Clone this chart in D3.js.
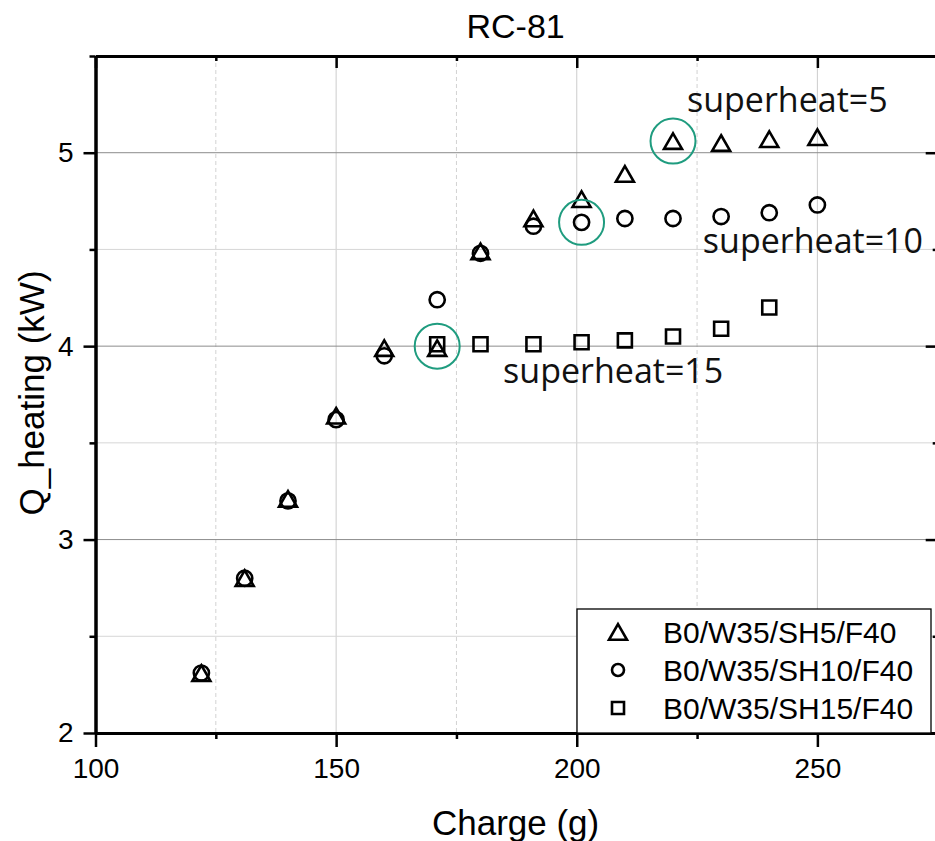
<!DOCTYPE html>
<html>
<head>
<meta charset="utf-8">
<script src="https://cdn.jsdelivr.net/npm/d3@7"></script>
<style>
  html, body { margin: 0; padding: 0; background: #fff; }
  svg { display: block; }
</style>
</head>
<body>
<svg id="chart" width="935" height="841"></svg>
<script>
// ---------- data ----------
const chargeAll = [122, 131, 140, 150, 160, 171, 180, 191, 201, 210, 220, 230, 240, 250];
const qSH5  = [2.31, 2.80, 3.21, 3.64, 3.99, 3.99, 4.49, 4.66, 4.76, 4.89, 5.06, 5.05, 5.07, 5.08];
const qSH10 = [2.31, 2.80, 3.20, 3.62, 3.95, 4.24, 4.48, 4.62, 4.64, 4.66, 4.66, 4.67, 4.69, 4.73];
const chargeSH15 = [171, 180, 191, 201, 210, 220, 230, 240];
const qSH15 = [4.01, 4.01, 4.01, 4.02, 4.03, 4.05, 4.09, 4.20];

const seriesNames = ["B0/W35/SH5/F40", "B0/W35/SH10/F40", "B0/W35/SH15/F40"];
const xTicksMajor = [100, 150, 200, 250];
const xTicksMinor = [125, 175, 225, 275];
const yTicksMajor = [2, 3, 4, 5];
const yTicksMinor = [2.5, 3.5, 4.5, 5.5];
const highlightCharge = [220, 201, 171];
const highlightQ = [5.06, 4.64, 4.00];
const annotTexts = ["superheat=5", "superheat=10", "superheat=15"];
const annotX = [222.9, 226.2, 184.7];
const annotY = [5.21, 4.48, 3.81];

(function () {
// ---------- setup ----------
const svg = d3.select("#chart");
const x = d3.scaleLinear().domain([100, 275]).range([95.5, 937.7]);
const y = d3.scaleLinear().domain([2, 5.5]).range([733, 56]);
const L = 95.5, R = 937.7, T = 56, B = 733;
const SANS = "'Liberation Sans', Arial, sans-serif";

// grid
const g = svg.append("g");
g.selectAll(".vmin").data(xTicksMinor.filter(d => d < 275)).join("line")
  .attr("x1", d => x(d)).attr("x2", d => x(d)).attr("y1", T).attr("y2", B)
  .attr("stroke", "#d2d2d2").attr("stroke-width", 1).attr("stroke-dasharray", "4,3");
g.selectAll(".vmaj").data(xTicksMajor.filter(d => d > 100)).join("line")
  .attr("x1", d => x(d)).attr("x2", d => x(d)).attr("y1", T).attr("y2", B)
  .attr("stroke", "#cccccc").attr("stroke-width", 1);
g.selectAll(".hmin").data(yTicksMinor.filter(d => d < 5.5)).join("line")
  .attr("x1", L).attr("x2", R).attr("y1", d => y(d)).attr("y2", d => y(d))
  .attr("stroke", "#d6d6d6").attr("stroke-width", 1);
g.selectAll(".hmaj").data(yTicksMajor.filter(d => d > 2)).join("line")
  .attr("x1", L).attr("x2", R).attr("y1", d => y(d)).attr("y2", d => y(d))
  .attr("stroke", "#8c8c8c").attr("stroke-width", 1);

// axes
const axW = 3;
const axBottom = svg.append("g").attr("transform", `translate(0,${B})`)
  .call(d3.axisBottom(x).tickValues(xTicksMajor).tickSize(14).tickSizeOuter(0).tickPadding(11));
const axBottomMin = svg.append("g").attr("transform", `translate(0,${B})`)
  .call(d3.axisBottom(x).tickValues(xTicksMinor).tickSize(6).tickSizeOuter(0).tickFormat(""));
const axLeft = svg.append("g").attr("transform", `translate(${L},0)`)
  .call(d3.axisLeft(y).tickValues(yTicksMajor).tickSize(12).tickSizeOuter(0).tickPadding(10).tickFormat(d3.format("d")));
const axLeftMin = svg.append("g").attr("transform", `translate(${L},0)`)
  .call(d3.axisLeft(y).tickValues(yTicksMinor).tickSize(6).tickSizeOuter(0).tickFormat(""));
const axTop = svg.append("g").attr("transform", `translate(0,${T})`)
  .call(d3.axisTop(x).tickValues(xTicksMajor).tickSize(-12).tickSizeOuter(0).tickFormat(""));
const axTopMin = svg.append("g").attr("transform", `translate(0,${T})`)
  .call(d3.axisTop(x).tickValues(xTicksMinor).tickSize(-5).tickSizeOuter(0).tickFormat(""));
const axRight = svg.append("g").attr("transform", `translate(${R},0)`)
  .call(d3.axisRight(y).tickValues(yTicksMajor).tickSize(-12).tickSizeOuter(0).tickFormat(""));
const axRightMin = svg.append("g").attr("transform", `translate(${R},0)`)
  .call(d3.axisRight(y).tickValues(yTicksMinor).tickSize(-5).tickSizeOuter(0).tickFormat(""));

[axBottom, axBottomMin, axLeft, axLeftMin, axTop, axTopMin, axRight, axRightMin].forEach(a => {
  a.select(".domain").attr("stroke", "#000").attr("stroke-width", axW);
  a.selectAll(".tick line").attr("stroke", "#000").attr("stroke-width", 2.5);
  a.selectAll(".tick text").attr("fill", "#000").style("font-family", SANS).style("font-size", "28px");
});

// titles
svg.append("text").attr("x", (L + R) / 2 - 1).attr("y", 38).attr("text-anchor", "middle")
  .style("font-family", SANS).style("font-size", "34px").text("RC-81");
svg.append("text").attr("x", (L + R) / 2 - 1).attr("y", 835).attr("text-anchor", "middle")
  .style("font-family", SANS).style("font-size", "35px").text("Charge (g)");
svg.append("text").attr("transform", `translate(44,393) rotate(-90)`).attr("text-anchor", "middle")
  .style("font-family", SANS).style("font-size", "35px").text("Q_heating (kW)");

// symbols
function triPath(s) { const h = s * 0.866; return `M0,${-h/2}L${s/2},${h/2}L${-s/2},${h/2}Z`; }
function sqPath(s) { return `M${-s/2},${-s/2}H${s/2}V${s/2}H${-s/2}Z`; }
const mk = svg.append("g").attr("fill", "none").attr("stroke", "#000").attr("stroke-width", 2.6);

mk.selectAll(".tri").data(chargeAll.map((c, i) => [c, qSH5[i]])).join("path")
  .attr("d", triPath(18)).attr("transform", d => `translate(${x(d[0])},${y(d[1])})`);
mk.selectAll(".cir").data(chargeAll.map((c, i) => [c, qSH10[i]])).join("circle")
  .attr("cx", d => x(d[0])).attr("cy", d => y(d[1])).attr("r", 7.6);
mk.selectAll(".sq").data(chargeSH15.map((c, i) => [c, qSH15[i]])).join("path")
  .attr("d", sqPath(14)).attr("transform", d => `translate(${x(d[0])},${y(d[1])})`);

// highlights
svg.append("g").selectAll("circle").data(highlightCharge.map((c, i) => [c, highlightQ[i]])).join("circle")
  .attr("cx", d => x(d[0])).attr("cy", d => y(d[1])).attr("r", 22.5)
  .attr("fill", "none").attr("stroke", "#1f9c7f").attr("stroke-width", 2);

// annotations
svg.append("g").selectAll("text").data(annotTexts).join("text")
  .attr("x", (d, i) => x(annotX[i])).attr("y", (d, i) => y(annotY[i]))
  .style("font-family", "'Open Sans', 'Noto Sans', sans-serif").style("font-size", "34px")
  .attr("fill", "#111").text(d => d);

// legend
const lg = svg.append("g");
lg.append("rect").attr("x", 577).attr("y", 609).attr("width", 354).attr("height", B - 609)
  .attr("fill", "#fff").attr("stroke", "#000").attr("stroke-width", 1.3);
const rowsY = [632, 670, 708];
lg.selectAll(".lt").data(seriesNames).join("text")
  .attr("x", 663).attr("y", (d, i) => rowsY[i] + 11)
  .style("font-family", SANS).style("font-size", "30px").text(d => d);
const ls = lg.append("g").attr("fill", "none").attr("stroke", "#000").attr("stroke-width", 2.6);
ls.append("path").attr("d", triPath(18)).attr("transform", `translate(618,${rowsY[0]})`);
ls.append("circle").attr("cx", 618).attr("cy", rowsY[1]).attr("r", 6);
ls.append("path").attr("d", sqPath(12)).attr("transform", `translate(618,${rowsY[2]})`);
})();
</script>
</body>
</html>
